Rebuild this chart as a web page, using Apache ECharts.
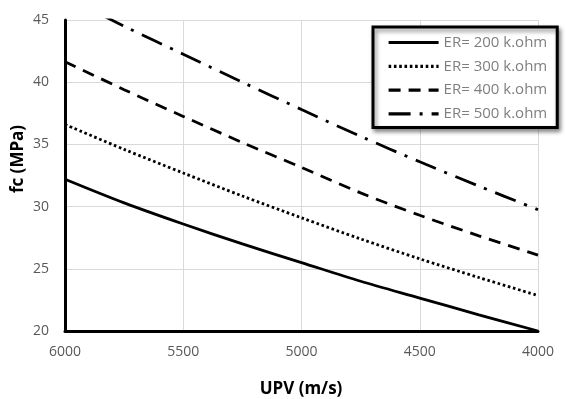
<!DOCTYPE html>
<html>
<head>
<meta charset="utf-8">
<script src="https://cdn.jsdelivr.net/npm/echarts@6/dist/echarts.min.js"></script>
<style>
html,body{margin:0;padding:0;background:#fff;}
#chart{width:566px;height:399px;}
</style>
</head>
<body>
<div id="chart"></div>
<script>
// UPV (m/s) sample points
var upv = [6000, 5750, 5500, 5250, 5000, 4750, 4500, 4250, 4000];
// fc (MPa) for each electrical resistivity
var er200 = [32.2, 30.3, 28.6, 27.0, 25.5, 24.0, 22.65, 21.3, 20.0];
var er300 = [36.6, 34.6, 32.7, 30.85, 29.1, 27.4, 25.8, 24.3, 22.85];
var er400 = [41.65, 39.4, 37.25, 35.15, 33.15, 31.1, 29.3, 27.65, 26.1];
var er500 = [46.9, 44.5, 42.25, 40.0, 37.8, 35.65, 33.6, 31.65, 29.75];
var seriesNames = ['ER= 200 k.ohm', 'ER= 300 k.ohm', 'ER= 400 k.ohm', 'ER= 500 k.ohm'];
var xTicks = [4000, 4500, 5000, 5500, 6000];
var yTicks = [20, 25, 30, 35, 40, 45];
var xTitle = 'UPV (m/s)';
var yTitle = 'fc (MPa)';

function pairs(vals) {
  return upv.map(function (u, i) { return [u, vals[i]]; });
}
var dashes = ['solid', [2.6, 2.7], [12, 8], [22, 9, 3, 9]];
var allVals = [er200, er300, er400, er500];

var chart = echarts.init(document.getElementById('chart'), null, {renderer: 'canvas'});
var fontFam = '"Open Sans", "Liberation Sans", sans-serif';

var option = {
  animation: false,
  backgroundColor: '#ffffff',
  grid: {left: 65, right: 28, top: 20, bottom: 68, containLabel: false},
  xAxis: {
    type: 'value',
    inverse: true,
    min: xTicks[0],
    max: xTicks[xTicks.length - 1],
    interval: 500,
    axisLine: {show: true, onZero: false, lineStyle: {color: '#000', width: 3}},
    axisTick: {show: false},
    splitLine: {show: true, lineStyle: {color: '#d9d9d9', width: 1}},
    axisLabel: {color: '#595959', fontSize: 14, fontFamily: fontFam, margin: 14,
      formatter: function (v) { return String(v); }}
  },
  yAxis: {
    type: 'value',
    min: yTicks[0],
    max: yTicks[yTicks.length - 1],
    interval: 5,
    axisLine: {show: true, onZero: false, lineStyle: {color: '#000', width: 3}},
    axisTick: {show: false},
    splitLine: {show: true, lineStyle: {color: '#d9d9d9', width: 1}},
    axisLabel: {color: '#595959', fontSize: 14, fontFamily: fontFam, margin: 16}
  },
  legend: {
    orient: 'vertical',
    left: 373,
    top: 27,
    padding: [8, 10, 6, 14],
    itemWidth: 50,
    itemHeight: 14,
    itemGap: 8.8,
    backgroundColor: '#ffffff',
    borderColor: '#000',
    borderWidth: 3,
    borderRadius: 0,
    shadowColor: 'rgba(0,0,0,0.45)',
    shadowBlur: 4,
    shadowOffsetX: 2,
    shadowOffsetY: 3,
    itemStyle: {color: 'rgba(0,0,0,0)', borderColor: 'rgba(0,0,0,0)', borderWidth: 0, opacity: 0},
    lineStyle: {width: 3.2},
    textStyle: {color: '#7f7f7f', fontSize: 15, fontFamily: fontFam, lineHeight: 14},
    data: seriesNames
  },
  graphic: [
    {
      type: 'text',
      x: 301,
      y: 389,
      style: {text: xTitle, font: 'bold 17px ' + fontFam, fill: '#000', align: 'center', verticalAlign: 'middle'}
    },
    {
      type: 'text',
      x: 18,
      y: 159,
      rotation: Math.PI / 2,
      style: {text: yTitle, font: 'bold 17px ' + fontFam, fill: '#000', align: 'center', verticalAlign: 'middle'}
    }
  ],
  series: allVals.map(function (vals, i) {
    return {
      name: seriesNames[i],
      type: 'line',
      data: pairs(vals),
      smooth: 0.3,
      showSymbol: false,
      symbol: 'none',
      clip: true,
      lineStyle: {color: '#000', width: 2.8, type: dashes[i], cap: 'butt'},
      itemStyle: {color: '#000'}
    };
  })
};
chart.setOption(option);
</script>
</body>
</html>
